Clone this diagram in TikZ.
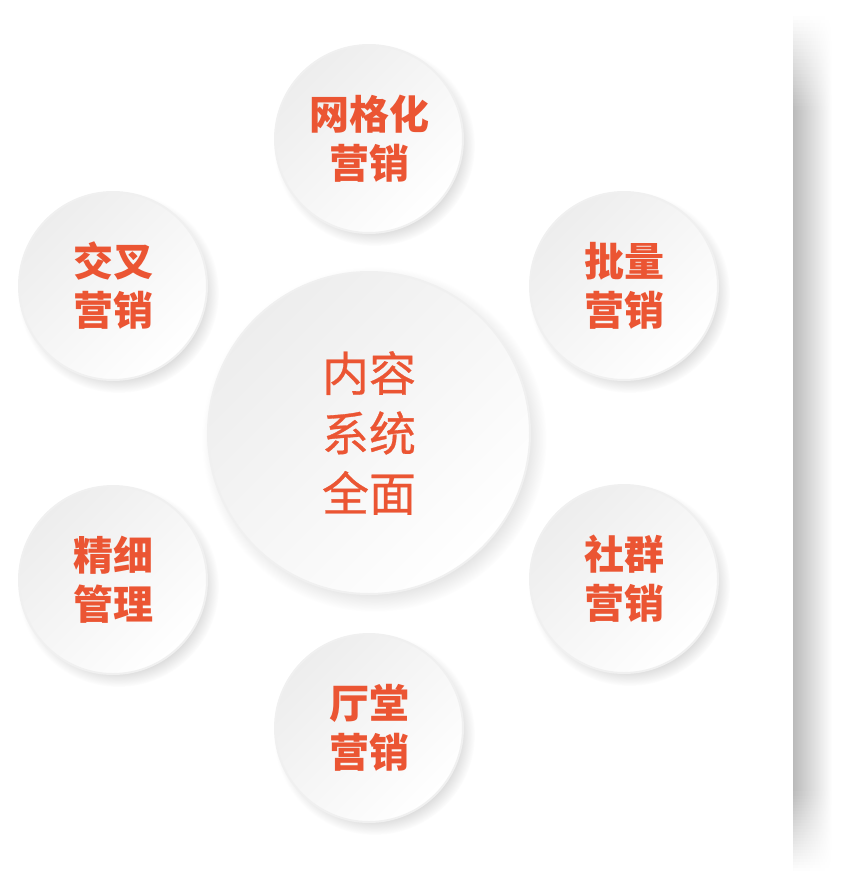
\documentclass[tikz,border=0pt]{standalone}
\usepackage{fontspec}
\newfontfamily\cjk{Noto Sans CJK SC}
\newfontfamily\cjkmid[FakeBold=0.6]{Noto Sans CJK SC}
\usetikzlibrary{shadows}
\definecolor{tagred}{HTML}{EB5533}
\begin{document}
\begin{tikzpicture}[x=1pt, y=-1pt,
	disc/.style  = {circle, draw=black!6, line width=2pt, top color=black!7, bottom color=white, shading angle=45,
		text=tagred, align=center, inner sep=0pt,
		circular drop shadow={shadow xshift=5pt, shadow yshift=-6pt, shadow scale=1.07, opacity=0.27}},
	hub/.style   = {disc, minimum size=322pt, font=\cjkmid\fontsize{47}{60}\selectfont},
	spoke/.style = {disc, minimum size=188pt, font=\cjk\bfseries\fontsize{40}{49}\selectfont},
	wall/.style  = {left color=black!#1, right color=white}]
	\useasboundingbox (0,0) rectangle (841,886);
	
	% the shaded wall on the right, faded at both ends
	\foreach \i in {0,...,26}
	\fill[wall=\i] (793,13+3.6*\i) rectangle (832,17.2+3.6*\i);
	\fill[wall=27] (793,110) rectangle (832,790);
	\foreach \i in {0,...,26}
	\fill[wall=\i] (793,873-3*\i) rectangle (832,869.4-3*\i);
	
	% the centre
	\node[hub] (hub) at (369,433) {内容\\系统\\全面};
	
	% the six discs round it
	\node[spoke] (grid)   at (369,139) {网格化\\营销};
	\node[spoke] (batch)  at (624,286) {批量\\营销};
	\node[spoke] (group)  at (624,579) {社群\\营销};
	\node[spoke] (hall)   at (369,728) {厅堂\\营销};
	\node[spoke] (fine)   at (113,580) {精细\\管理};
	\node[spoke] (cross)  at (113,286) {交叉\\营销};
	\end{tikzpicture}
\end{document}
